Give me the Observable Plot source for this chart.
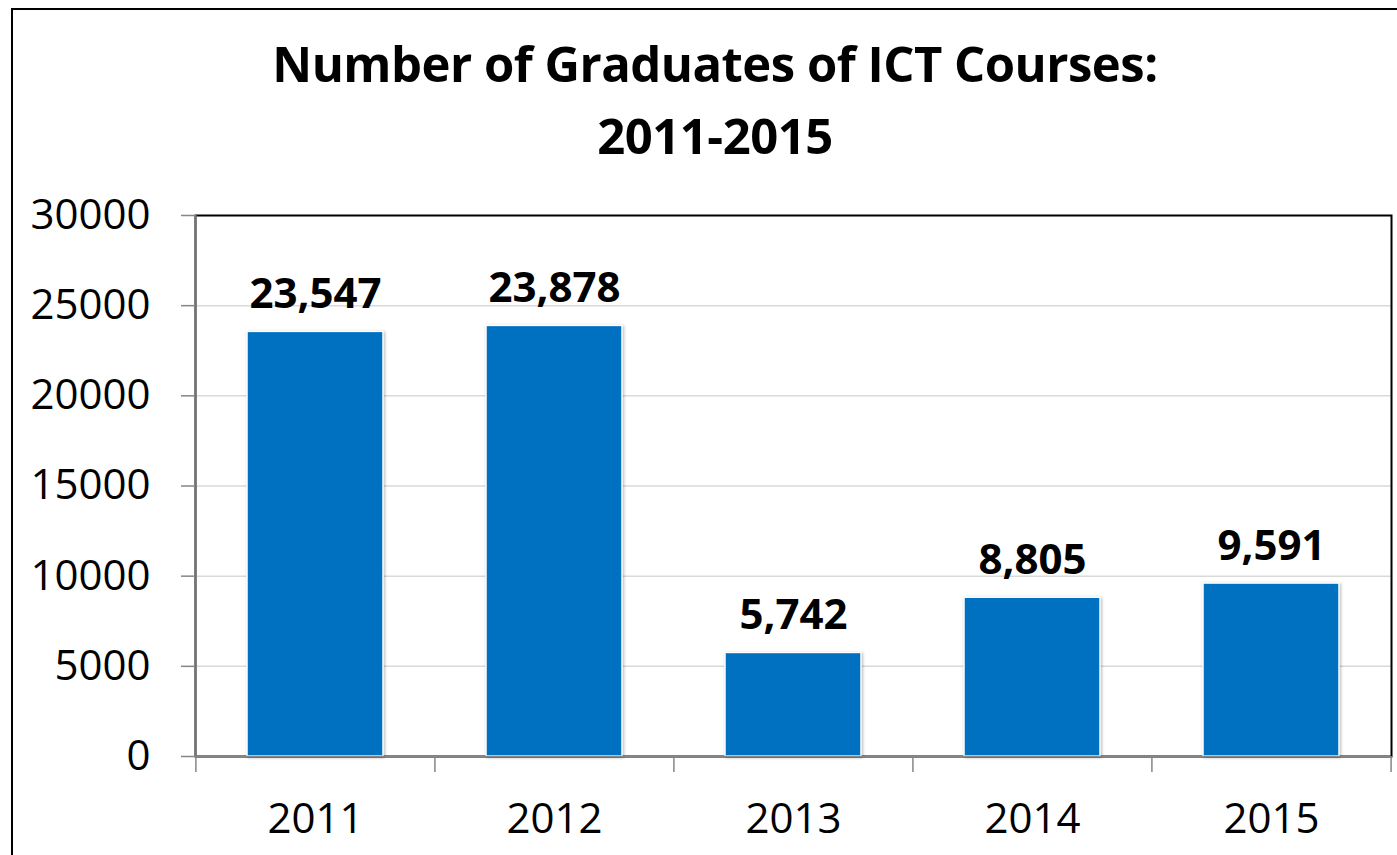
<!DOCTYPE html>
<html>
<head>
<meta charset="utf-8">
<script src="https://cdn.jsdelivr.net/npm/d3@7"></script>
<script src="https://cdn.jsdelivr.net/npm/@observablehq/plot@0.6"></script>
<style>
  html, body { margin: 0; padding: 0; background: #fff; overflow: hidden; width: 1397px; height: 855px; }
  #border { position: absolute; left: 11px; top: 8px; width: 1500px; height: 1000px; border: 2.5px solid #000; box-sizing: border-box; }
  #title { position: absolute; left: 0; top: 27px; width: 1430px; text-align: center; font-family: "Open Sans"; font-weight: 700; font-size: 49px; line-height: 72px; letter-spacing: -0.5px; color: #000; }
  #chart { position: absolute; left: 0; top: 190px; }
  #chart g[aria-label="bar"] rect { filter: drop-shadow(1.5px 1px 1.5px rgba(0,0,0,0.3)); }
</style>
</head>
<body>
<div id="border"></div>
<div id="title">Number of Graduates of ICT Courses:<br>2011-2015</div>
<div id="chart"></div>
<script>
const years = ["2011", "2012", "2013", "2014", "2015"];
const graduates = [23547, 23878, 5742, 8805, 9591];
const yTicks = [0, 5000, 10000, 15000, 20000, 25000, 30000];
const gridTicks = [5000, 10000, 15000, 20000, 25000];

const data = years.map((y, i) => ({year: y, value: graduates[i]}));

const width = 1397, height = 665;
const marginLeft = 195, marginRight = 6, marginTop = 25, marginBottom = 99;
const step = (width - marginLeft - marginRight) / years.length;

const chart = Plot.plot({
  width, height, marginLeft, marginRight, marginTop, marginBottom,
  style: { fontFamily: "Open Sans", fontSize: "42px", background: "transparent", color: "#000", overflow: "visible" },
  x: { domain: years, paddingInner: 0.43, paddingOuter: 0.215, label: null },
  y: { domain: [0, 30000], label: null },
  marks: [
    Plot.gridY(gridTicks, { stroke: "#d9d9d9", strokeOpacity: 1, strokeWidth: 1.5 }),
    Plot.frame({ stroke: "#000", strokeWidth: 2 }),
    Plot.barY(data, { x: "year", y: "value", fill: "#0070C0", stroke: "#fff", strokeWidth: 1.5 }),
    // left axis line
    Plot.ruleX([years[0]], { dx: -step / 2, y1: 0, y2: 30000, stroke: "#868686", strokeWidth: 1.5 }),
    // bottom axis line
    Plot.ruleY([0], { stroke: "#868686", strokeWidth: 1.5 }),
    // category boundary ticks
    Plot.ruleX(years, { x: d => d, dx: -step / 2, y1: 0, y2: 0, insetBottom: -16, stroke: "#868686", strokeWidth: 1.5 }),
    Plot.ruleX([years[years.length - 1]], { dx: step / 2, y1: 0, y2: 0, insetBottom: -16, stroke: "#868686", strokeWidth: 1.5 }),
    Plot.axisY({ ticks: yTicks, tickFormat: d => String(d), tickSize: 14, tickPadding: 31, stroke: "#868686", strokeWidth: 1.5, strokeOpacity: 1, fill: "#000", fontSize: 42, label: null }),
    Plot.axisX({ tickSize: 0, tickPadding: 47, fill: "#000", fontSize: 42, label: null }),
    Plot.text(data, { x: "year", y: "value", text: d => d3.format(",")(d.value), fontWeight: "bold", fontSize: 42, fill: "#000", lineAnchor: "bottom", dy: -24 })
  ]
});
document.getElementById("chart").appendChild(chart);
</script>
</body>
</html>
